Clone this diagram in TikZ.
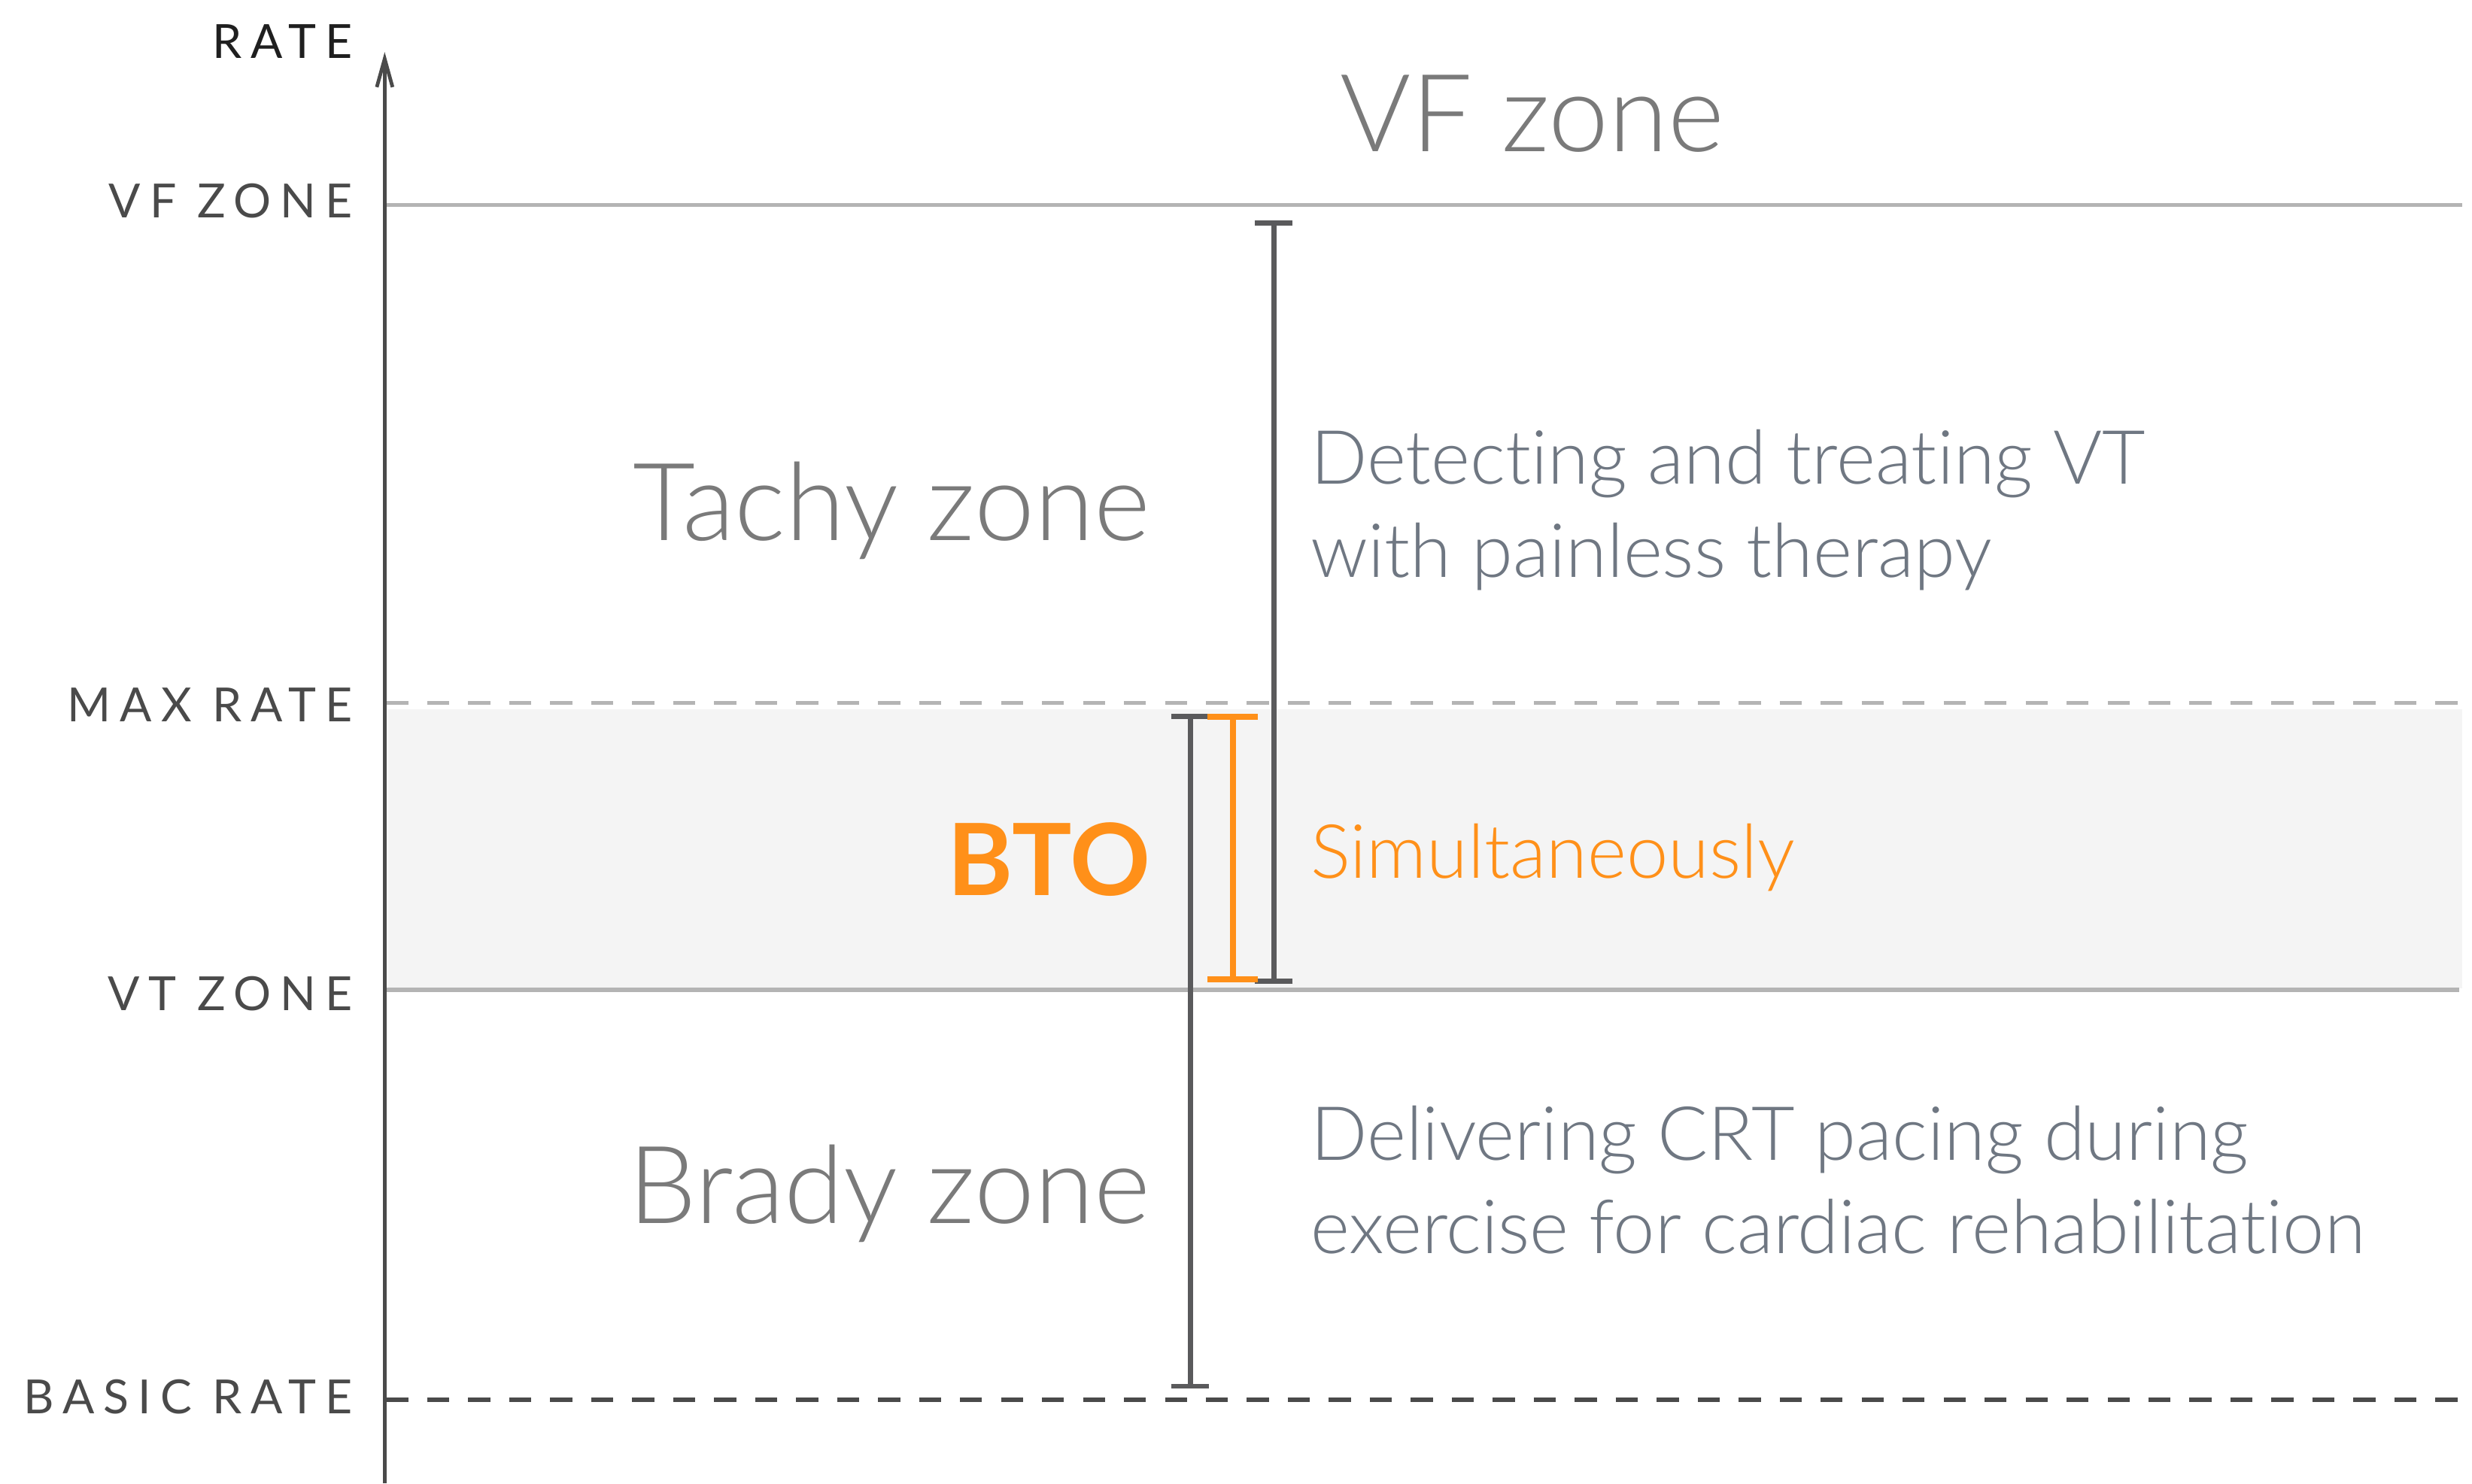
\documentclass[tikz,border=0pt]{standalone}
\usepackage{fontspec}
\setmainfont{Lato}
\newfontfamily\lightfont[Ligatures={NoCommon,NoRare,NoDiscretionary}]{Lato Light}
\newfontfamily\axisfont[LetterSpace=19]{Lato}
\usepackage{xcolor}
\usetikzlibrary{arrows.meta, positioning, calc}

\definecolor{axisgray}{HTML}{4A4A4A}
\definecolor{linegray}{HTML}{B4B4B4}
\definecolor{bandgray}{HTML}{F4F4F4}
\definecolor{zonegray}{HTML}{7A7A7A}
\definecolor{descgray}{HTML}{6F7782}
\definecolor{btoorange}{HTML}{FF9019}
\definecolor{bargray}{HTML}{5A5A5C}

\begin{document}
\begin{tikzpicture}[
  x=0.02cm, y=-0.02cm,
  axislabel/.style={anchor=base east, inner sep=0pt, text=axisgray,
                    font=\axisfont\fontsize{17}{20}\selectfont},
  zonelabel/.style={anchor=base east, inner sep=0pt, text=zonegray,
                    font=\lightfont\fontsize{39}{48}\selectfont},
  desc/.style={anchor=base west, inner sep=0pt, text=descgray, align=left,
               font=\lightfont\fontsize{27}{33.6}\selectfont},
  zoneline/.style={linegray, line width=1.5pt},
  errbar/.style={bargray, line width=1.8pt,
                 {Bar[width=0.48cm]}-{Bar[width=0.48cm]}},
  >=Stealth
]
\useasboundingbox (0,0) rectangle (1568,941);

% ── Band between max rate and VT zone ──
\fill[bandgray] (246,450) rectangle (1562,627);

% ── Zone boundaries ──
\coordinate (vfL) at (245,130);   \coordinate (vfR) at (1562,130);
\coordinate (maxL) at (245,446);  \coordinate (maxR) at (1562,446);
\coordinate (vtL) at (245,628);   \coordinate (vtR) at (1560,628);
\coordinate (basL) at (245,888);  \coordinate (basR) at (1562,888);
\draw[zoneline] (vfL) -- (vfR);
\draw[zoneline, dash pattern=on 0.28cm off 0.24cm] (maxL) -- (maxR);
\draw[zoneline] (vtL) -- (vtR);
\draw[axisgray, line width=1.5pt, dash pattern=on 0.28cm off 0.24cm] (basL) -- (basR);

% ── Rate axis ──
\coordinate (axisBot) at (244,941);
\coordinate (axisTop) at (244,33);
\draw[axisgray, line width=1.3pt, -{Straight Barb[length=0.36cm, width=0.2cm]}]
  (axisBot) -- (axisTop);

\node[axislabel, text=black!88] (rate) at (224,37) {RATE};
\node[axislabel] (vfzone) at (224,138) {VF ZONE};
\node[axislabel] (maxrate) at (224,458) {MAX RATE};
\node[axislabel] (vtzone) at (224,641) {VT ZONE};
\node[axislabel] (basicrate) at (224,897) {BASIC RATE};

% ── Zone names ──
\node[zonelabel, anchor=base] (vf) at (972,96) {VF zone};
\node[zonelabel] (tachy) at (730,343) {Tachy zone};
\node[zonelabel, text=btoorange, font=\fontsize{36}{44}\selectfont\bfseries] (bto) at (730,568) {BTO};
\node[zonelabel] (brady) at (730,776) {Brady zone};

% ── Ranges ──
\coordinate (tachyTop) at (808,140); \coordinate (tachyBot) at (808,624);
\coordinate (bradyTop) at (755,453); \coordinate (bradyBot) at (755,881);
\coordinate (btoTop) at (782,453);   \coordinate (btoBot) at (782,623);
\draw[errbar] (tachyTop) -- (tachyBot);
\draw[errbar] (bradyTop) -- (bradyBot);
\draw[errbar, btoorange, line width=2.2pt, {Bar[width=0.64cm]}-{Bar[width=0.64cm]}]
  (btoTop) -- (btoBot);

\node[desc] (tachydesc) at (831,366) {Detecting and treating VT\\with painless therapy};
\node[desc, text=btoorange] (btodesc) at (831,557) {Simultaneously};
\node[desc] (bradydesc) at (831,795) {Delivering CRT pacing during\\exercise for cardiac rehabilitation};

\end{tikzpicture}
\end{document}
